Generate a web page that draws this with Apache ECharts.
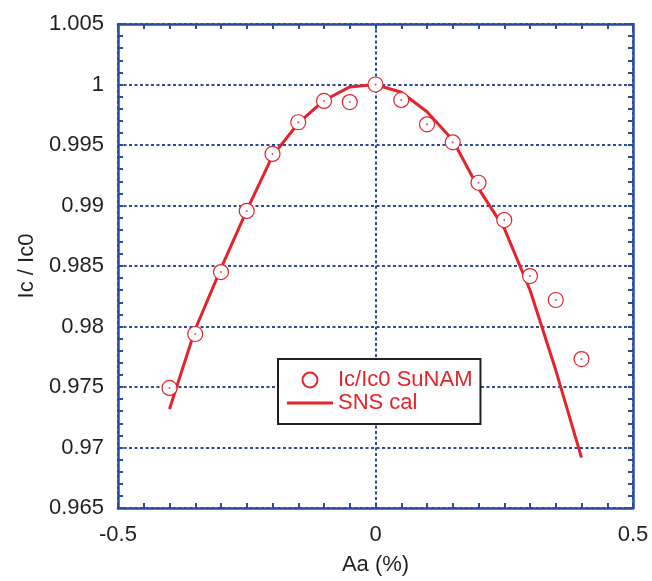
<!DOCTYPE html>
<html>
<head>
<meta charset="utf-8">
<script src="https://cdn.jsdelivr.net/npm/echarts@6/dist/echarts.min.js"></script>
<style>
  html, body { margin: 0; padding: 0; background: #fff; }
  #chart { width: 652px; height: 581px; }
</style>
</head>
<body>
<div id="chart"></div>
<script>
// measured points (Ic/Ic0 SuNAM)
const strainMeas = [-0.4, -0.35, -0.3, -0.25, -0.2, -0.15, -0.1, -0.05, 0, 0.05, 0.1, 0.15, 0.2, 0.25, 0.3, 0.35, 0.4];
const icMeas = [0.97492, 0.97938, 0.98450, 0.98955, 0.99426, 0.99688, 0.99864, 0.99855, 1.0000, 0.99872, 0.99671, 0.99522, 0.99188, 0.98880, 0.98417, 0.98219, 0.97731];

// SNS calculation curve
const strainCal = [-0.4, -0.35, -0.3, -0.25, -0.2, -0.15, -0.1, -0.05, 0, 0.05, 0.1, 0.15, 0.2, 0.25, 0.3, 0.35, 0.4];
const icCal = [0.97318, 0.97977, 0.98480, 0.98960, 0.99410, 0.99680, 0.99868, 0.99980, 1.0000, 0.99936, 0.99775, 0.99541, 0.99142, 0.98811, 0.98302, 0.97640, 0.96916];

const xTicks = [-0.5, 0, 0.5];
const yMin = 0.965, yMax = 1.005, yStep = 0.005;

const blue = '#2b4c9e';
const red = '#e3242b';
const font = 'Liberation Sans, Arial, Helvetica, sans-serif';

const measPairs = strainMeas.map((x, i) => [x, icMeas[i]]);
const calPairs = strainCal.map((x, i) => [x, icCal[i]]);

const chart = echarts.init(document.getElementById('chart'));

const tickStyle = { show: true, inside: true, length: 5, lineStyle: { color: blue, width: 2 } };
const minorStyle = { show: true, splitNumber: 10, length: 5, lineStyle: { color: blue, width: 2 } };
const axisLineStyle = { show: true, onZero: false, lineStyle: { color: blue, width: 2.5 } };

const option = {
  animation: false,
  grid: { left: 118, right: 19, top: 24, bottom: 73 },
  legend: {
    orient: 'vertical',
    left: 278,
    top: 359,
    padding: [10, 8, 10, 9],
    itemGap: 1,
    itemWidth: 46,
    itemHeight: 15,
    borderColor: '#231f20',
    borderWidth: 2,
    backgroundColor: '#fff',
    textStyle: { fontSize: 22, color: red, fontFamily: font },
    data: [
      'Ic/Ic0 SuNAM',
      { name: 'SNS cal', icon: 'path://M0,0 L46,0 L46,3.2 L0,3.2 Z' }
    ]
  },
  xAxis: [
    {
      type: 'value',
      min: -0.5, max: 0.5, interval: 0.5,
      name: 'Aa (%)',
      nameLocation: 'middle',
      nameGap: 46,
      nameTextStyle: { fontSize: 22, color: '#231f20', fontFamily: font },
      axisLine: axisLineStyle,
      axisTick: tickStyle,
      minorTick: minorStyle,
      axisLabel: {
        margin: 16, fontSize: 22, color: '#231f20', fontFamily: font,
        formatter: v => xTicks.includes(+v.toFixed(2)) ? String(+v.toFixed(2)) : ''
      },
      splitLine: { show: true, lineStyle: { color: blue, width: 2, type: [3, 2.5] } }
    },
    {
      type: 'value', position: 'top',
      min: -0.5, max: 0.5, interval: 0.5,
      axisLine: axisLineStyle,
      axisTick: tickStyle,
      minorTick: minorStyle,
      axisLabel: { show: false },
      splitLine: { show: false }
    }
  ],
  yAxis: [
    {
      type: 'value',
      min: yMin, max: yMax, interval: yStep,
      name: 'Ic / Ic0',
      nameLocation: 'middle',
      nameGap: 80,
      nameTextStyle: { fontSize: 22, color: '#231f20', fontFamily: font },
      axisLine: axisLineStyle,
      axisTick: tickStyle,
      minorTick: Object.assign({}, minorStyle, { splitNumber: 5 }),
      axisLabel: {
        margin: 14, fontSize: 22, color: '#231f20', fontFamily: font,
        formatter: v => String(+v.toFixed(3))
      },
      splitLine: { show: true, lineStyle: { color: blue, width: 2, type: [3, 2.5] } }
    },
    {
      type: 'value', position: 'right',
      min: yMin, max: yMax, interval: yStep,
      axisLine: axisLineStyle,
      axisTick: tickStyle,
      minorTick: Object.assign({}, minorStyle, { splitNumber: 5 }),
      axisLabel: { show: false },
      splitLine: { show: false }
    }
  ],
  series: [
    {
      name: 'SNS cal',
      type: 'line',
      data: calPairs,
      symbol: 'none',
      lineStyle: { color: red, width: 3 },
      itemStyle: { color: red },
      z: 3
    },
    {
      name: 'Ic/Ic0 SuNAM',
      type: 'scatter',
      data: measPairs,
      symbol: 'circle',
      symbolSize: 15,
      itemStyle: { color: '#fff', borderColor: red, borderWidth: 1.2, opacity: 1 },
      z: 4
    },
    {
      name: 'center',
      type: 'scatter',
      data: measPairs,
      symbol: 'circle',
      symbolSize: 2,
      itemStyle: { color: red },
      z: 5
    }
  ]
};

chart.setOption(option);
</script>
</body>
</html>
